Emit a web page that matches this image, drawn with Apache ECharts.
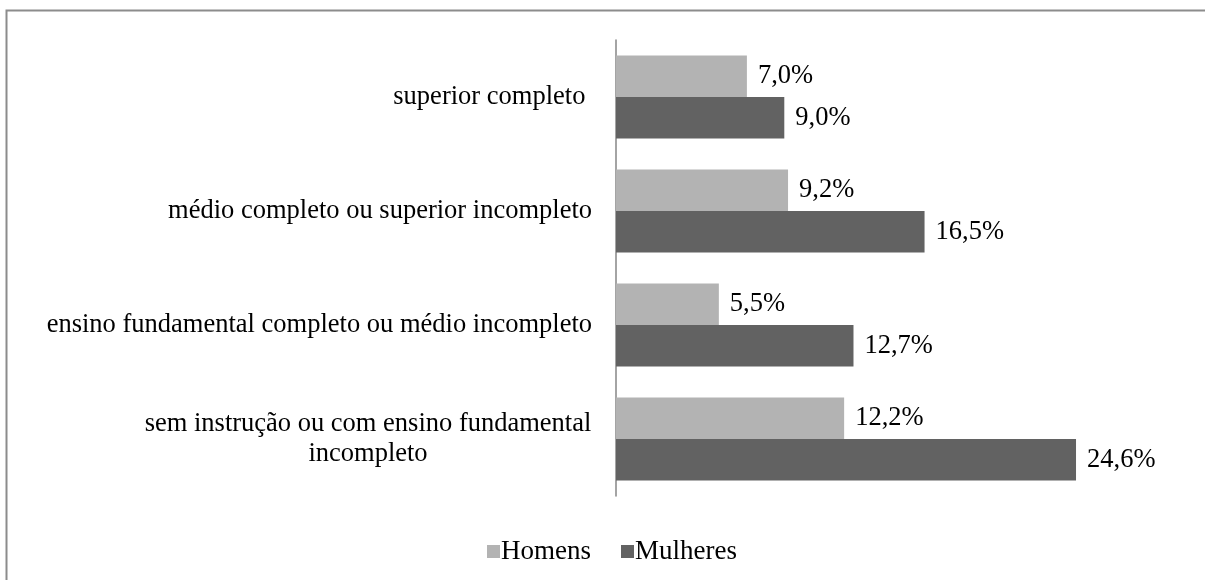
<!DOCTYPE html>
<html>
<head>
<meta charset="UTF-8">
<title>Escolaridade</title>
<script src="https://cdn.jsdelivr.net/npm/echarts@6/dist/echarts.min.js"></script>
<style>
	html, body { margin: 0; padding: 0; background: #fff; }
	#chart { width: 1205px; height: 580px; }
</style>
</head>
<body>
<div id="chart"></div>
<script>
// categorias, de cima para baixo
const categorias = [
	'superior completo ',
	'médio completo ou superior incompleto',
	'ensino fundamental completo ou médio incompleto',
	'sem instrução ou com ensino fundamental\nincompleto'
]
const homens = [7.0, 9.2, 5.5, 12.2]
const mulheres = [9.0, 16.5, 12.7, 24.6]

const fonte = 'Liberation Serif'
const tam = 26.5

function pct(v) {
	return v.toFixed(1).replace('.', ',') + '%'
}

const chart = echarts.init(document.getElementById('chart'))
chart.setOption({
	animation: false,
	textStyle: { fontFamily: fonte },
	graphic: [{
		type: 'rect',
		shape: { x: 6.5, y: 10.5, width: 1400, height: 1000 },
		style: { fill: 'none', stroke: '#8c8c8c', lineWidth: 2 },
		silent: true
	}],
	grid: { left: 616, right: 28, top: 40, bottom: 84 },
	legend: {
		bottom: 10,
		left: 482,
		icon: 'rect',
		itemWidth: 13,
		itemHeight: 13,
		itemGap: 30,
		textStyle: { fontFamily: fonte, fontSize: 27, color: '#000', padding: [0, 0, 0, -4] },
		data: ['Homens', 'Mulheres']
	},
	xAxis: {
		type: 'value',
		min: 0,
		max: 30,
		show: false
	},
	yAxis: {
		type: 'category',
		inverse: true,
		data: categorias,
		axisLine: { show: true, lineStyle: { color: '#868686', width: 1.5 } },
		axisTick: { show: false },
		axisLabel: {
			margin: 24,
			fontFamily: fonte,
			fontSize: tam,
			color: '#000',
			lineHeight: 30,
			formatter: function (v) {
				if (v.indexOf('\n') < 0) return v
				return v.split('\n').map(function (l) { return '{c|' + l + '}' }).join('\n')
			},
			rich: {
				c: { width: 448, align: 'center', fontFamily: fonte, fontSize: tam, lineHeight: 30, color: '#000' }
			}
		}
	},
	series: [{
		name: 'Homens',
		type: 'bar',
		data: homens,
		barGap: 0,
		barCategoryGap: '27%',
		itemStyle: { color: '#b3b3b3' },
		label: {
			show: true, position: 'right', distance: 11,
			fontFamily: fonte, fontSize: tam, color: '#000',
			formatter: function (p) { return pct(p.value) }
		}
	}, {
		name: 'Mulheres',
		type: 'bar',
		data: mulheres,
		barGap: 0,
		barCategoryGap: '27%',
		itemStyle: { color: '#626262' },
		label: {
			show: true, position: 'right', distance: 11,
			fontFamily: fonte, fontSize: tam, color: '#000',
			formatter: function (p) { return pct(p.value) }
		}
	}]
})
</script>
</body>
</html>
